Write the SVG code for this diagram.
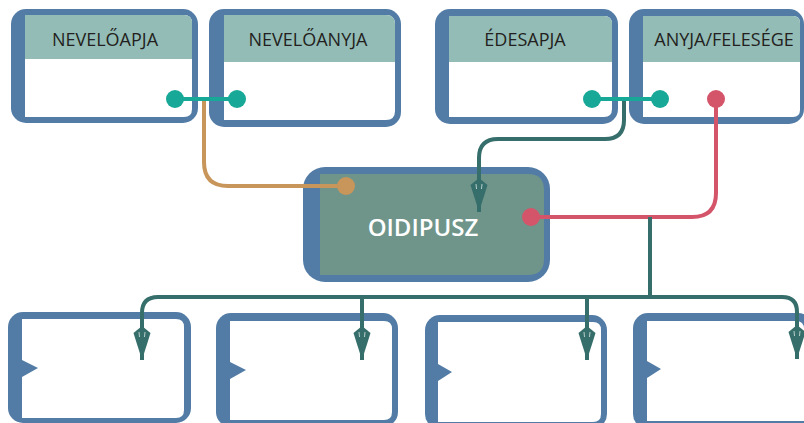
<svg xmlns="http://www.w3.org/2000/svg" width="804" height="423" viewBox="0 0 804 423">
<style>
.outer{fill:#527ca6}
.inner{fill:#ffffff}
.head{fill:#93bcb6}
.lbl{font-family:"Open Sans","Noto Sans",sans-serif;font-size:18px;fill:#231f20;text-anchor:middle}
.main{font-family:"Open Sans","Noto Sans",sans-serif;font-size:24px;font-weight:600;fill:#ffffff;text-anchor:middle}
.dk{fill:none;stroke:#356e6a;stroke-width:4}
.teal{stroke:#17a898;stroke-width:4}
.tealdot{fill:#17a898}
.red{fill:none;stroke:#d4546a;stroke-width:4}
.reddot{fill:#d4546a}
.org{fill:none;stroke:#c8955a;stroke-width:4}
.orgdot{fill:#c8955a}
</style>
<defs>
<marker id="arr" viewBox="-35 -10 36 20" refX="0" refY="0" markerWidth="36" markerHeight="20" markerUnits="userSpaceOnUse" orient="auto">
<path d="M-34,0 L-27,-8.5 L0,0 L-27,8.5 Z" fill="#356e6a"/>
<path d="M-28,-3 L-23,-2.5 M-28,3 L-23,2.5" stroke="#b9d0cc" stroke-width="1" fill="none"/>
</marker>
</defs>

<g id="nevelo-apja">
<rect class="outer" x="11" y="9" width="187" height="114" rx="15"/>
<path class="inner" d="M25,15 H184 Q192,15 192,23 V109 Q192,117 184,117 H25 Z"/>
<path class="head" d="M25,15 H184 Q192,15 192,23 V59 H25 Z"/>
<text class="lbl" x="105" y="46">NEVELŐAPJA</text>
</g>

<g id="nevelo-anyja">
<rect class="outer" x="209" y="9" width="192" height="118" rx="15"/>
<path class="inner" d="M224,15 H386 Q395,15 395,24 V111 Q395,120 386,120 H224 Z"/>
<path class="head" d="M224,15 H386 Q395,15 395,24 V62 H224 Z"/>
<text class="lbl" x="308" y="46">NEVELŐANYJA</text>
</g>

<g id="edesapja">
<rect class="outer" x="435" y="9" width="183" height="115" rx="15"/>
<path class="inner" d="M449,16 H604 Q612,16 612,24 V109 Q612,117 604,117 H449 Z"/>
<path class="head" d="M449,16 H604 Q612,16 612,24 V62 H449 Z"/>
<text class="lbl" x="525" y="46">ÉDESAPJA</text>
</g>

<g id="anyja-felesege">
<rect class="outer" x="629" y="9" width="175" height="115" rx="15"/>
<path class="inner" d="M643,16 H793 Q800,16 800,23 V110 Q800,117 793,117 H643 Z"/>
<path class="head" d="M643,16 H793 Q800,16 800,23 V62 H643 Z"/>
<text class="lbl" x="724" y="46">ANYJA/FELESÉGE</text>
</g>

<g id="oidipusz">
<rect class="outer" x="303" y="167" width="247" height="115" rx="22"/>
<path fill="#6f958b" d="M320,174 H528 Q544,174 544,190 V259 Q544,275 528,275 H320 Z"/>
<text class="main" x="423" y="236">OIDIPUSZ</text>
</g>

<g id="child-1">
<rect class="outer" x="8" y="312" width="183" height="111" rx="15"/>
<path class="inner" d="M22,319 H176 Q184,319 184,327 V410 Q184,418 176,418 H22 Z"/>
<path class="outer" d="M22,360 L38,368 L22,377 Z"/>
</g>
<g id="child-2">
<rect class="outer" x="216" y="313" width="182" height="114" rx="15"/>
<path class="inner" d="M230,321 H384 Q392,321 392,329 V412 Q392,420 384,420 H230 Z"/>
<path class="outer" d="M230,362 L246,370 L230,379 Z"/>
</g>
<g id="child-3">
<rect class="outer" x="425" y="315" width="182" height="114" rx="15"/>
<path class="inner" d="M438,322 H593 Q601,322 601,330 V414 Q601,422 593,422 H438 Z"/>
<path class="outer" d="M438,364 L452,372 L438,381 Z"/>
</g>
<g id="child-4">
<rect class="outer" x="633" y="313" width="180" height="116" rx="15"/>
<path class="inner" d="M647,321 H796 Q804,321 804,329 V421 H647 Z"/>
<path class="outer" d="M647,361 L661,369 L647,378 Z"/>
</g>

<g id="connectors">
<path class="org" d="M204,101 V162 Q204,186 228,186 H346"/>
<path class="red" d="M716,99 V193 Q716,217 692,217 H531"/>
<path class="dk" d="M624,99 V120 Q624,139 605,139 H498 Q479,139 479,158 V212" marker-end="url(#arr)"/>
<path class="dk" d="M650,217 V297 H158 Q142,297 142,313 V360" marker-end="url(#arr)"/>
<path class="dk" d="M362,297 V360" marker-end="url(#arr)"/>
<path class="dk" d="M587,297 V360" marker-end="url(#arr)"/>
<path class="dk" d="M650,297 H782 Q797,297 797,312 V359" marker-end="url(#arr)"/>
<line class="teal" x1="175" y1="99" x2="237" y2="99"/>
<circle class="tealdot" cx="175" cy="99" r="9"/>
<circle class="tealdot" cx="237" cy="99" r="9"/>
<line class="teal" x1="592" y1="99" x2="660" y2="99"/>
<circle class="tealdot" cx="592" cy="99" r="9"/>
<circle class="tealdot" cx="660" cy="99" r="9"/>
<circle class="reddot" cx="716" cy="99" r="9"/>
<circle class="orgdot" cx="346" cy="186" r="9"/>
<circle class="reddot" cx="531" cy="217" r="9"/>
</g>
</svg>
